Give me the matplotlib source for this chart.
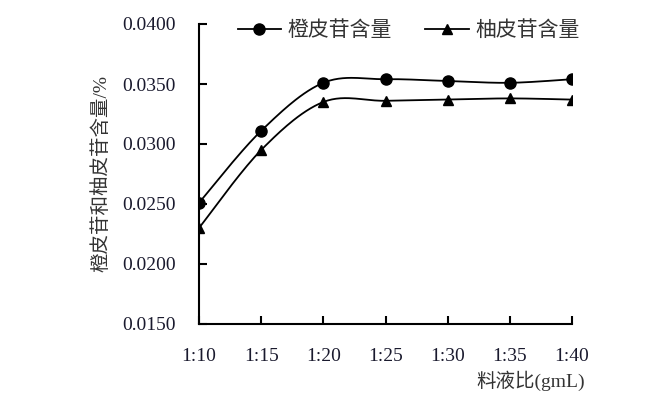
import numpy as np
import matplotlib
matplotlib.use('Agg')
import matplotlib.pyplot as plt

plt.rcParams['font.family'] = ['Liberation Serif', 'Noto Sans CJK SC']

# data
ratios = ['1:10', '1:15', '1:20', '1:25', '1:30', '1:35', '1:40']
orange = [0.0251, 0.0311, 0.0351, 0.0354, 0.03525, 0.0351, 0.0354]
pomelo = [0.0230, 0.0295, 0.0335, 0.0336, 0.0337, 0.0338, 0.0337]


def smooth(xs, ys, n=30):
    # Excel-style smoothed line (Catmull-Rom / Bezier with 1/6 control points)
    xs = np.asarray(xs, float)
    ys = np.asarray(ys, float)
    px = np.concatenate([[xs[0]], xs, [xs[-1]]])
    py = np.concatenate([[ys[0]], ys, [ys[-1]]])
    ox, oy = [], []
    t = np.linspace(0, 1, n)
    for i in range(1, len(px) - 2):
        p0 = np.array([px[i], py[i]])
        p3 = np.array([px[i + 1], py[i + 1]])
        p1 = p0 + (np.array([px[i + 1], py[i + 1]]) - np.array([px[i - 1], py[i - 1]])) / 6
        p2 = p3 - (np.array([px[i + 2], py[i + 2]]) - np.array([px[i], py[i]])) / 6
        b = ((1 - t) ** 3)[:, None] * p0 + (3 * (1 - t) ** 2 * t)[:, None] * p1 \
            + (3 * (1 - t) * t ** 2)[:, None] * p2 + (t ** 3)[:, None] * p3
        ox.extend(b[:, 0])
        oy.extend(b[:, 1])
    return ox, oy


x = np.arange(len(ratios))

fig = plt.figure(figsize=(6.68, 3.94), dpi=100)
ax = fig.add_axes([199 / 668, 1 - 324 / 394, 373 / 668, 300 / 394])

sx, sy = smooth(x, orange)
ax.plot(sx, sy, color='k', lw=1.3)
ax.plot(x, orange, ls='none', marker='o', ms=8, color='k')
sx, sy = smooth(x, pomelo)
ax.plot(sx, sy, color='k', lw=1.3)
ax.plot(x, pomelo, ls='none', marker='^', ms=7.5, color='k')

# legend proxies
ax.plot([], [], color='k', lw=1.3, marker='o', ms=8, label='橙皮苷含量')
ax.plot([], [], color='k', lw=1.3, marker='^', ms=7.5, label='柚皮苷含量')
ax.legend(loc='upper center', bbox_to_anchor=(0.562, 1.01), ncol=2, frameon=False,
          fontsize=15, handlelength=2.1, handletextpad=0.3, columnspacing=1.6,
          borderpad=0, borderaxespad=0, labelcolor='#333333')

ax.set_xlim(0, 6)
ax.set_ylim(0.015, 0.040)
ax.set_yticks(np.arange(0.015, 0.0401, 0.005))
ax.set_yticklabels(['%.4f' % v for v in np.arange(0.015, 0.0401, 0.005)])
ax.set_xticks(x)
ax.set_xticklabels(ratios)

for s in ['top', 'right']:
    ax.spines[s].set_visible(False)
for s in ['left', 'bottom']:
    ax.spines[s].set_linewidth(1.5)
ax.tick_params(axis='both', direction='in', length=6, width=1.5, labelsize=14,
               labelcolor='#1a1a2e')
ax.tick_params(axis='y', pad=17)
ax.tick_params(axis='x', pad=17)

ax.set_ylabel('橙皮苷和柚皮苷含量/%', fontsize=14, color='#333333', labelpad=8)
ax.text(1.035, -0.19, '料液比(gmL)', transform=ax.transAxes, ha='right', va='center',
        fontsize=14, color='#333333')

fig.savefig('out.png', dpi=100)
